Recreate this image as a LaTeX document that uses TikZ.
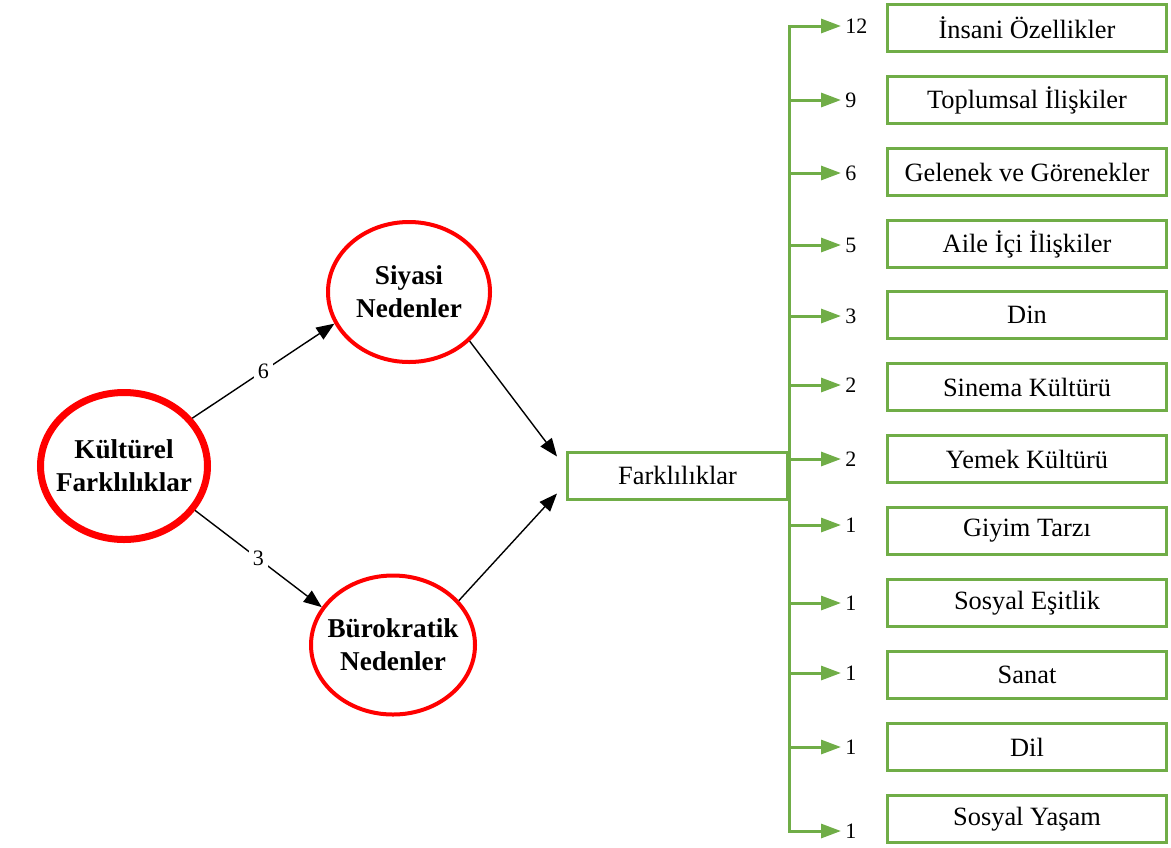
\documentclass[tikz,border=0pt]{standalone}
\usepackage{fontspec}
\setmainfont{Liberation Serif}
\usetikzlibrary{arrows.meta,positioning,shapes.geometric}
\definecolor{CircRed}{HTML}{FF0000}
\definecolor{BoxGreen}{HTML}{70AD47}

\begin{document}
\begin{tikzpicture}[x=0.5pt,y=-0.5pt,>={Triangle[length=9pt,width=7pt]}]
  \tikzstyle{mycirc}=[ellipse, draw=CircRed, line width=2pt, align=center,
              inner sep=-7pt, font=\fontsize{13.6}{16.5}\selectfont\bfseries]
  \tikzstyle{mybox}=[draw=BoxGreen, line width=1.5pt, minimum width=139.5pt,
              minimum height=23.5pt, inner sep=0pt, font=\fontsize{13.2}{16}\selectfont]
  \tikzstyle{mynum}=[fill=white, inner sep=2pt, font=\fontsize{11}{13}\selectfont]
  \tikzstyle{myarr}=[->,line width=0.7pt,black]
  \tikzstyle{garr}=[-{Triangle[length=10pt,width=7pt]},line width=1.5pt,BoxGreen]
  \useasboundingbox (0,0) rectangle (1171,847);
  % causes
  \node[mycirc, line width=3.5pt, minimum width=83.5pt, minimum height=73.5pt] (kf) at (124,466) {K\"ult\"urel\\Farkl\i l\i klar};
  \node[mycirc, minimum width=81pt, minimum height=70pt] (sn) at (409,292) {Siyasi\\Nedenler};
  \node[mycirc, minimum width=82pt, minimum height=69.5pt] (bn) at (393,645) {B\"urokratik\\Nedenler};
  \node[mybox, minimum width=110pt] (fk) at (677.5,475.5) {Farklılıklar};
  \draw[myarr] (kf.35) -- node[mynum]{6} (sn.203);
  \draw[myarr] (kf.-32) -- node[mynum]{3} (bn.152);
  \draw[myarr] (sn.-39) -- ([shift={(-9,6)}]fk.north west);
  \draw[myarr] (bn.34) -- ([shift={(-9,-7)}]fk.south west);
  % differences
  \foreach \i/\by/\ay/\num/\txt in {1/28/26/12/İnsani Özellikler, 2/100/100/9/Toplumsal İlişkiler,
      3/172/173/6/Gelenek ve Görenekler, 4/244/245/5/Aile İçi İlişkiler, 5/315/316/3/Din,
      6/387/385/2/Sinema Kültürü, 7/459/459/2/Yemek Kültürü, 8/531/525/1/Giyim Tarzı,
      9/603/603/1/Sosyal Eşitlik, 10/675/673/1/Sanat, 11/747/747/1/Dil, 12/819/831/1/Sosyal Yaşam}{
    \node[mybox] (b\i) at (1027,\by) {\txt};
    \coordinate (t\i) at (789,\ay);
    \node[mynum, anchor=west] (n\i) at (841,\ay) {\num};
  }
  \draw[BoxGreen, line width=1.5pt, line cap=rect] (t1) -- (t12);
  \foreach \i in {1,...,12}
    \draw[garr] (t\i) -- (n\i.west);
\end{tikzpicture}
\end{document}
